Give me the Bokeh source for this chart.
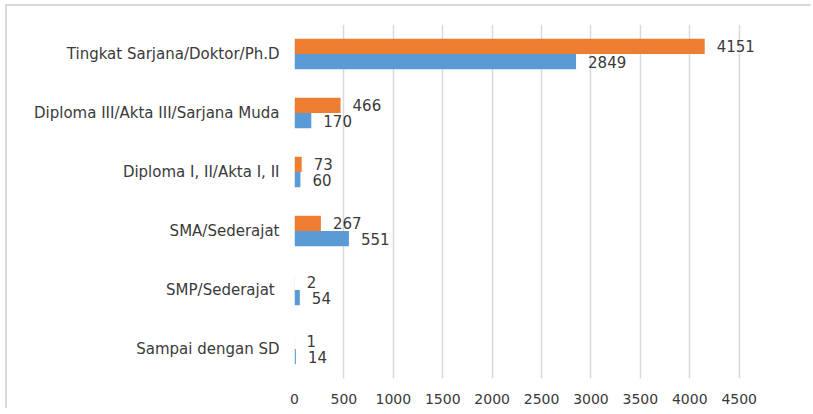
from bokeh.plotting import figure
from bokeh.models import ColumnDataSource, FactorRange, Range1d, FixedTicker
from bokeh.transform import dodge
from bokeh.core.properties import value
from bokeh.embed import file_html
from bokeh.resources import INLINE

categories = ["Sampai dengan SD", "SMP/Sederajat ", "SMA/Sederajat",
              "Diploma I, II/Akta I, II", "Diploma III/Akta III/Sarjana Muda",
              "Tingkat Sarjana/Doktor/Ph.D"]
series_orange = [1, 2, 267, 73, 466, 4151]
series_blue = [14, 54, 551, 60, 170, 2849]
x_ticks = [0, 500, 1000, 1500, 2000, 2500, 3000, 3500, 4000, 4500]

ORANGE = "#ED7D31"
BLUE = "#5B9BD5"
TEXT = "#3a3a3a"
FONT = "DejaVu Sans"

src = ColumnDataSource(dict(
    cat=categories,
    orange=series_orange,
    blue=series_blue,
    orange_lbl=[str(v) for v in series_orange],
    blue_lbl=[str(v) for v in series_blue],
))

p = figure(width=806, height=404, output_backend="svg", toolbar_location=None,
           y_range=FactorRange(factors=categories, range_padding=0),
           x_range=Range1d(0, 5171),
           min_border_left=287, min_border_right=8,
           min_border_top=18, min_border_bottom=32)
p.styles = {"border-top": "2px solid #d9d9d9", "border-left": "2px solid #d9d9d9",
            "margin-left": "5px", "margin-top": "4px"}
p.outline_line_color = None
p.background_fill_color = "white"
p.border_fill_color = "white"

bar_h = 0.26
off = 0.13

p.hbar(y=dodge("cat", off, range=p.y_range), right="orange", left=0, height=bar_h,
       source=src, fill_color=ORANGE, line_color=None)
p.hbar(y=dodge("cat", -off, range=p.y_range), right="blue", left=0, height=bar_h,
       source=src, fill_color=BLUE, line_color=None)

p.text(x="orange", y=dodge("cat", off, range=p.y_range), text="orange_lbl", source=src,
       x_offset=12, text_align="left", text_baseline="middle",
       text_font=value(FONT), text_font_size="15px", text_color=TEXT)
p.text(x="blue", y=dodge("cat", -off, range=p.y_range), text="blue_lbl", source=src,
       x_offset=12, text_align="left", text_baseline="middle",
       text_font=value(FONT), text_font_size="15px", text_color=TEXT)

p.xaxis.ticker = FixedTicker(ticks=x_ticks)
p.xgrid.ticker = FixedTicker(ticks=x_ticks)
p.xgrid.grid_line_color = "#d9d9d9"
p.xgrid.grid_line_width = 1.5
p.ygrid.grid_line_color = None

for ax in (p.xaxis, p.yaxis):
    ax.axis_line_color = None
    ax.major_tick_line_color = None
    ax.minor_tick_line_color = None
    ax.major_tick_out = 0
    ax.major_tick_in = 0
    ax.major_label_text_font = FONT
    ax.major_label_text_color = TEXT

p.xaxis.major_label_text_font_size = "14px"
p.yaxis.major_label_text_font_size = "15px"
p.xaxis.major_label_standoff = 15
p.yaxis.major_label_standoff = 15

open("out.html", "w").write(file_html(p, INLINE))
